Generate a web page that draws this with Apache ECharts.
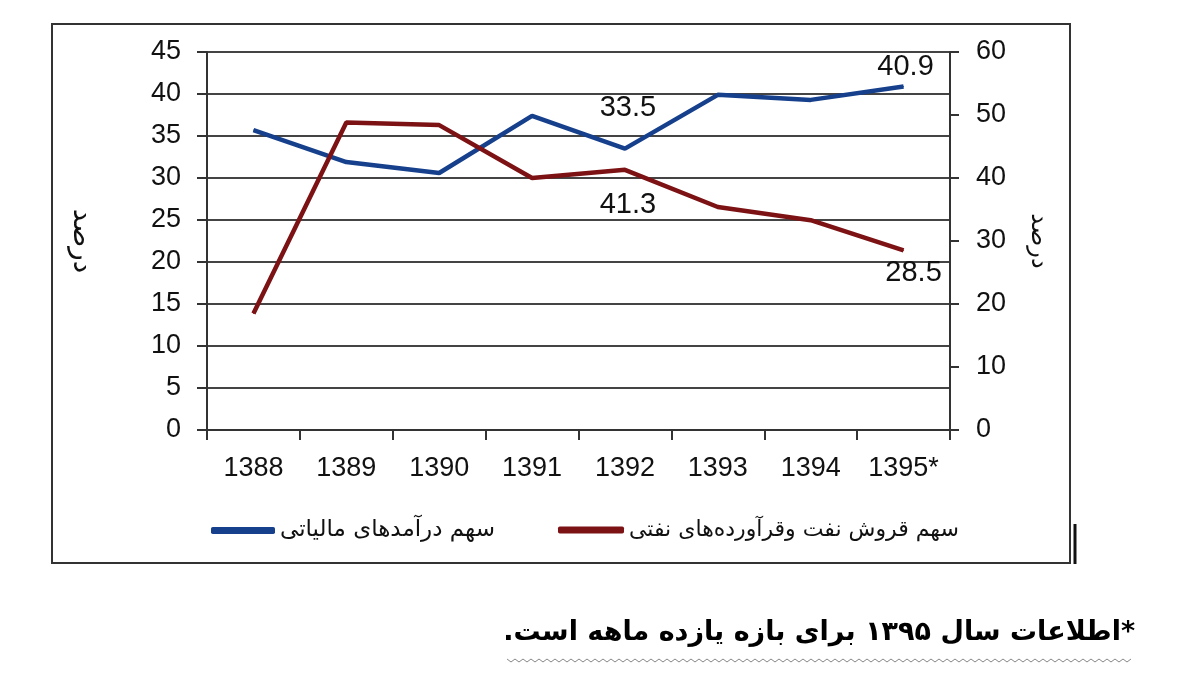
<!DOCTYPE html>
<html>
<head>
<meta charset="utf-8">
<script src="https://cdn.jsdelivr.net/npm/echarts@6/dist/echarts.min.js"></script>
<style>
html, body { margin: 0; padding: 0; background: #fff; }
#chart { width: 1200px; height: 676px; }
</style>
</head>
<body>
<div id="chart"></div>
<script>
// سال‌ها (محور افقی)
var years = ['1388', '1389', '1390', '1391', '1392', '1393', '1394', '1395*'];

// سهم درآمدهای مالیاتی - محور چپ
var taxShare = [35.7, 31.9, 30.6, 37.4, 33.5, 39.9, 39.3, 40.9];
// سهم فروش نفت و فرآورده‌ها - محور راست
var oilShare = [18.5, 48.8, 48.4, 40.0, 41.3, 35.4, 33.3, 28.5];

var taxName = 'سهم درآمدهای مالیاتی';
var oilName = 'سهم قروش نفت وقرآورده‌های نفتی';
var note = '\u200F*اطلاعات سال ۱۳۹۵ برای بازه یازده ماهه است.\u200F';

var blue = '#16408c';
var red = '#7d1214';
var numFont = '"Liberation Sans", Arial, sans-serif';
var faFont = '"DejaVu Sans", sans-serif';

// برچسب‌های مقدار فقط روی چند نقطه
var taxLabels = { 4: { position: 'top', distance: 26, offset: [3, 0] },
                  7: { position: 'top', distance: 4, offset: [2, 0] } };
var oilLabels = { 4: { position: 'bottom', distance: 20, offset: [3, 0] },
                  7: { position: 'bottom', distance: 8, offset: [10, 0] } };

function buildData(values, labels) {
	var res = [];
	for (var i = 0; i < values.length; i++) {
		var item = { value: values[i] };
		if (labels[i]) {
			item.label = {
				show: true,
				position: labels[i].position,
				distance: labels[i].distance,
				offset: labels[i].offset
			};
		}
		res.push(item);
	}
	return res;
}

// خط موجی زیر یادداشت
var wave = [];
for (var k = 0; k <= 156; k++) {
	wave.push([507 + k * 4, k % 2 === 0 ? 659 : 662]);
}

var myChart = echarts.init(document.getElementById('chart'));

var option = {
	backgroundColor: '#fff',
	animation: false,
	grid: { left: 207, right: 250, top: 52, bottom: 246 },
	legend: [ {
		left: 206, top: 514,
		icon: 'roundRect', itemWidth: 64, itemHeight: 7, itemGap: 0,
		data: [ taxName ],
		textStyle: { fontFamily: faFont, fontSize: 23, color: '#111' }
	}, {
		left: 553, top: 514,
		icon: 'roundRect', itemWidth: 66, itemHeight: 7, itemGap: 0,
		data: [ oilName ],
		textStyle: { fontFamily: faFont, fontSize: 22, color: '#111' }
	} ],
	xAxis: [ {
		type: 'category',
		boundaryGap: true,
		data: years,
		axisLine: { lineStyle: { color: '#333', width: 2 } },
		axisTick: { show: true, interval: 0, length: 10, lineStyle: { color: '#333', width: 2 } },
		axisLabel: { interval: 0, margin: 25, fontFamily: numFont, fontSize: 27, color: '#111' }
	} ],
	yAxis: [ {
		type: 'value',
		min: 0, max: 45, interval: 5,
		name: 'درصد',
		nameLocation: 'middle',
		nameGap: 112,
		nameRotate: -90,
		nameTextStyle: { fontFamily: faFont, fontSize: 28, color: '#111' },
		axisLine: { show: true, lineStyle: { color: '#333', width: 2 } },
		axisTick: { show: true, length: 10, lineStyle: { color: '#333', width: 2 } },
		axisLabel: { margin: 26, fontFamily: numFont, fontSize: 27, color: '#111' },
		splitLine: { show: true, lineStyle: { color: '#444', width: 2 } }
	}, {
		type: 'value',
		min: 0, max: 60, interval: 10,
		name: 'درصد',
		nameLocation: 'middle',
		nameGap: 76,
		nameRotate: -90,
		nameTextStyle: { fontFamily: faFont, fontSize: 24, color: '#111' },
		axisLine: { show: true, lineStyle: { color: '#333', width: 2 } },
		axisTick: { show: true, length: 9, lineStyle: { color: '#333', width: 2 } },
		axisLabel: { margin: 26, fontFamily: numFont, fontSize: 27, color: '#111' },
		splitLine: { show: false }
	} ],
	series: [ {
		name: taxName,
		type: 'line',
		yAxisIndex: 0,
		data: buildData(taxShare, taxLabels),
		symbol: 'circle',
		symbolSize: 1,
		itemStyle: { color: blue },
		lineStyle: { color: blue, width: 4.5 },
		label: { show: false, fontFamily: numFont, fontSize: 29, color: '#111' }
	}, {
		name: oilName,
		type: 'line',
		yAxisIndex: 1,
		data: buildData(oilShare, oilLabels),
		symbol: 'circle',
		symbolSize: 1,
		itemStyle: { color: red },
		lineStyle: { color: red, width: 4.5 },
		label: { show: false, fontFamily: numFont, fontSize: 29, color: '#111' }
	} ],
	graphic: [ {
		type: 'rect',
		shape: { x: 52, y: 24, width: 1018, height: 539 },
		style: { fill: 'none', stroke: '#333', lineWidth: 2 },
		z: -1
	}, {
		type: 'line',
		shape: { x1: 1075, y1: 524, x2: 1075, y2: 564 },
		style: { stroke: '#111', lineWidth: 3 }
	}, {
		type: 'text',
		right: 65, top: 619,
		style: {
			text: note,
			fontFamily: faFont, fontSize: 27, fontWeight: 'bold', fill: '#000'
		}
	}, {
		type: 'polyline',
		shape: { points: wave },
		style: { fill: 'none', stroke: '#888', lineWidth: 1 }
	} ]
};

myChart.setOption(option);
</script>
</body>
</html>
